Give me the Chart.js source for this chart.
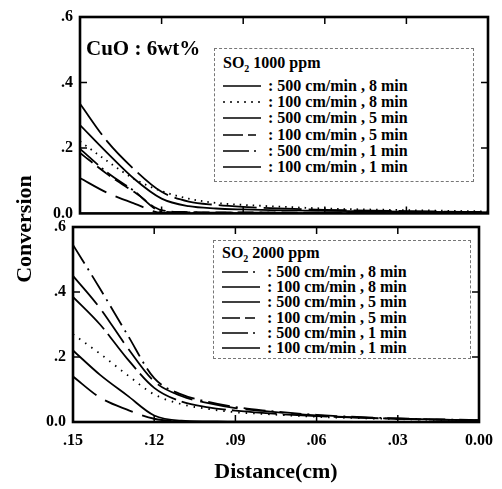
<!DOCTYPE html>
<html>
<head>
<meta charset="utf-8">
<script src="https://cdn.jsdelivr.net/npm/chart.js@4.4.0/dist/chart.umd.min.js"></script>
<style>
body{margin:0;background:#fff;}
#wrap{position:relative;width:502px;height:489px;overflow:hidden;font-family:"Liberation Serif","Times New Roman",serif;color:#000;}
.panel{position:absolute;left:0;width:502px;}
.legend{position:absolute;border:1px dashed #777;font-weight:bold;font-size:16px;background:#fff;box-sizing:border-box;}
.legend .ttl{position:absolute;left:8px;white-space:nowrap;}
.legend .row{position:absolute;left:8px;white-space:nowrap;display:flex;align-items:center;}
.legend svg{margin-right:7px;}
#yTitle{position:absolute;left:-41px;top:216px;width:130px;text-align:center;font-weight:bold;font-size:22px;transform:rotate(-90deg);}
#cuo{position:absolute;left:86px;top:36px;font-weight:bold;font-size:21px;}
</style>
</head>
<body>
<div id="wrap">
	<div class="panel" id="p1" style="top:0;height:230px;"><canvas id="c1"></canvas></div>
	<div class="panel" id="p2" style="top:210px;height:279px;"><canvas id="c2"></canvas></div>
	<div id="cuo">CuO : 6wt%</div>
	<div id="yTitle">Conversion</div>
	<div class="legend" id="lg1" style="left:214px;top:48px;width:260px;height:134px;"></div>
	<div class="legend" id="lg2" style="left:213px;top:240px;width:258px;height:119px;"></div>
</div>
<script>
// 거리 (cm)
var distance=[0.15,0.14,0.13,0.12,0.11,0.10,0.09,0.08,0.06,0.03,0.0];
var distanceTicks=[0.15,0.12,0.09,0.06,0.03,0.0];
var distanceTickLabels=['.15','.12','.09','.06','.03','0.00'];
var convTicks=[0,0.2,0.4,0.6];
var convTickLabels=['0.0','.2','.4','.6'];
var seriesLabels=[': 500 cm/min , 8 min',': 100 cm/min , 8 min',': 500 cm/min , 5 min',': 100 cm/min , 5 min',': 500 cm/min , 1 min',': 100 cm/min , 1 min'];

// SO2 1000 ppm
var so1000_500_8=[0.335,0.22,0.134,0.066,0.036,0.026,0.020,0.016,0.011,0.007,0.004];
var so1000_100_8=[0.22,0.16,0.105,0.068,0.045,0.032,0.026,0.022,0.015,0.010,0.006];
var so1000_500_5=[0.27,0.185,0.105,0.045,0.022,0.015,0.012,0.010,0.008,0.005,0.003];
var so1000_100_5=[0.185,0.12,0.065,0.010,0.004,0.003,0.003,0.003,0.002,0.002,0.002];
var so1000_500_1=[0.197,0.125,0.068,0.006,0.003,0.002,0.002,0.002,0.001,0.001,0.001];
var so1000_100_1=[0.108,0.063,0.030,0.002,0.001,0,0,0,0,0,0];

// SO2 2000 ppm
var so2000_500_8=[0.545,0.41,0.27,0.135,0.085,0.062,0.046,0.036,0.022,0.011,0.006];
var so2000_100_8=[0.45,0.35,0.23,0.125,0.080,0.058,0.043,0.034,0.020,0.010,0.005];
var so2000_500_5=[0.385,0.30,0.195,0.105,0.063,0.045,0.035,0.028,0.018,0.010,0.005];
var so2000_100_5=[0.27,0.21,0.145,0.085,0.055,0.040,0.030,0.025,0.016,0.009,0.004];
var so2000_500_1=[0.22,0.145,0.082,0.020,0.004,0.002,0.001,0.001,0.001,0,0];
var so2000_100_1=[0.14,0.075,0.038,0.010,0.002,0,0,0,0,0,0];

function pts(arr){
	var r=[];
	for(var i=0;i<arr.length;i++){ r.push({x:distance[i],y:arr[i]}); }
	return r;
}
function ds(arr,dash){
	return {data:pts(arr),borderColor:'#000',borderWidth:1.8,borderDash:dash,pointRadius:0,fill:false,cubicInterpolationMode:'monotone'};
}
function labelFor(list,labels,v){
	for(var i=0;i<list.length;i++){ if(Math.abs(list[i]-v)<1e-6) return labels[i]; }
	return '';
}

//테두리 + 안쪽 눈금
var framePlugin={
	id:'frame',
	afterDraw:function(chart){
		var ctx=chart.ctx, a=chart.chartArea, xs=chart.scales.x, ys=chart.scales.y;
		ctx.save();
		ctx.strokeStyle='#000';
		ctx.lineWidth=1.5;
		ctx.beginPath();
		for(var i=0;i<xs.ticks.length;i++){
			var px=xs.getPixelForValue(xs.ticks[i].value);
			if(px<a.left+3||px>a.right-3) continue;
			ctx.moveTo(px,a.bottom);ctx.lineTo(px,a.bottom-7);
			ctx.moveTo(px,a.top);ctx.lineTo(px,a.top+7);
		}
		for(var j=0;j<ys.ticks.length;j++){
			var py=ys.getPixelForValue(ys.ticks[j].value);
			if(py<a.top+3||py>a.bottom-3) continue;
			ctx.moveTo(a.left,py);ctx.lineTo(a.left+7,py);
			ctx.moveTo(a.right,py);ctx.lineTo(a.right-7,py);
		}
		ctx.stroke();
		ctx.lineWidth=2.6;
		ctx.strokeRect(a.left,a.top,a.right-a.left,a.bottom-a.top);
		ctx.restore();
	}
};

function makeOpts(yWidth,xHeight,showX,pad){
	var tickFont={family:'"Liberation Serif", serif',size:16,weight:'bold'};
	return {
		responsive:true,maintainAspectRatio:false,animation:false,devicePixelRatio:1,
		layout:{padding:pad},
		plugins:{legend:{display:false},tooltip:{enabled:false}},
		scales:{
			x:{type:'linear',reverse:true,min:0,max:0.15,
				afterBuildTicks:function(s){ s.ticks=distanceTicks.map(function(v){return {value:v};}); },
				afterFit:function(s){ s.height=xHeight; },
				ticks:{display:showX,color:'#000',font:tickFont,padding:9,maxRotation:0,autoSkip:false,
					callback:function(v){ return labelFor(distanceTicks,distanceTickLabels,v); }},
				grid:{display:false,drawTicks:false},border:{display:false},
				title:{display:showX,text:'Distance(cm)',color:'#000',font:{family:'"Liberation Serif", serif',size:22,weight:'bold'},padding:{top:0,bottom:3}}
			},
			y:{min:0,max:0.6,
				afterBuildTicks:function(s){ s.ticks=convTicks.map(function(v){return {value:v};}); },
				afterFit:function(s){ s.width=yWidth; },
				ticks:{color:'#000',font:tickFont,padding:7,
					callback:function(v){ return labelFor(convTicks,convTickLabels,v); }},
				grid:{display:false,drawTicks:false},border:{display:false}
			}
		}
	};
}

var chart1=new Chart(document.getElementById('c1'),{
	type:'line',
	data:{datasets:[
		ds(so1000_500_8,[38,7]),
		ds(so1000_100_8,[1.5,5]),
		ds(so1000_500_5,[]),
		ds(so1000_100_5,[16,6]),
		ds(so1000_500_1,[24,5,2,5]),
		ds(so1000_100_1,[30,10])
	]},
	options:makeOpts(80,0,false,{left:0,right:14,top:17,bottom:8}),
	plugins:[framePlugin]
});
var chart2=new Chart(document.getElementById('c2'),{
	type:'line',
	data:{datasets:[
		ds(so2000_500_8,[22,6,2,6]),
		ds(so2000_100_8,[38,8]),
		ds(so2000_500_5,[45,6]),
		ds(so2000_100_5,[1.5,6]),
		ds(so2000_500_1,[]),
		ds(so2000_100_1,[30,10])
	]},
	options:makeOpts(73,67,true,{left:0,right:16,top:17,bottom:0}),
	plugins:[framePlugin]
});

//범례 (견본선은 원본 범례 모양)
function buildLegend(id,title,dashes,titleTop,rowTop,rowGap){
	var box=document.getElementById(id);
	var t=document.createElement('div');
	t.className='ttl';t.style.top=titleTop+'px';
	t.innerHTML=title;
	box.appendChild(t);
	for(var i=0;i<seriesLabels.length;i++){
		var r=document.createElement('div');
		r.className='row';r.style.top=(rowTop+i*rowGap)+'px';
		r.innerHTML='<svg width="38" height="6"><line x1="0" y1="3" x2="38" y2="3" stroke="#000" stroke-width="1.6" stroke-dasharray="'+dashes[i]+'"/></svg><span>'+seriesLabels[i]+'</span>';
		box.appendChild(r);
	}
}
buildLegend('lg1','SO<sub style="font-size:10px">2</sub> 1000 ppm',['none','2,5','none','20,5,8,5','26,5,2,5','none'],5,28,16.2);
buildLegend('lg2','SO<sub style="font-size:10px">2</sub> 2000 ppm',['26,5,2,5','none','none','18,5,10,5','26,5,2,5','none'],3,22,15.2);
</script>
</body>
</html>
